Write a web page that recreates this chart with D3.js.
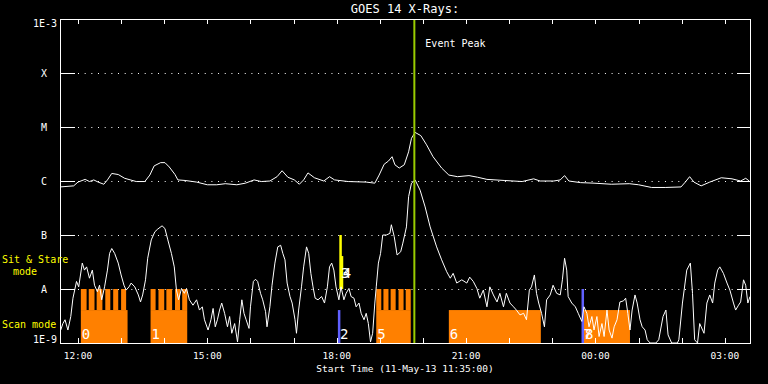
<!DOCTYPE html>
<html lang="en">
<head>
<meta charset="UTF-8">
<title>GOES 14 X-Rays</title>
<script src="https://d3js.org/d3.v7.min.js"></script>
<style>
  body { margin: 0; background: #000; }
  svg { display: block; background: #000; }
  text { font-family: "DejaVu Sans Mono", "Liberation Mono", monospace; fill: #fff; }
</style>
</head>
<body>
<svg id="goes"></svg>
<script>
// [minutes after 11:35 on 11-May-13, log10 flux in W/m^2]
var longChannel = [
  [0,-6.11],[19,-6.09],[25,-6.02],[35,-5.97],[41,-6.01],[47,-5.98],[53,-6.02],[61,-6.06],[66,-5.98],[72,-5.86],
  [81,-5.88],[90,-5.95],[106,-6.01],[118,-6.01],[125,-5.89],[131,-5.72],[140,-5.66],[146,-5.66],[152,-5.74],[160,-5.88],
  [164,-5.98],[174,-5.99],[190,-6.02],[205,-6.07],[218,-6.07],[230,-6.05],[246,-6.07],[258,-6.04],[270,-5.98],[280,-6.01],
  [292,-6.00],[302,-5.92],[309,-5.81],[317,-5.93],[326,-5.98],[333,-6.06],[339,-5.98],[345,-5.85],[354,-5.94],[367,-6.00],
  [375,-5.92],[382,-5.98],[401,-6.01],[426,-6.02],[438,-6.04],[444,-5.89],[451,-5.69],[457,-5.63],[462,-5.55],[466,-5.70],
  [472,-5.76],[479,-5.70],[485,-5.46],[489,-5.21],[494,-5.10],[502,-5.16],[510,-5.33],[519,-5.55],[531,-5.76],[541,-5.89],
  [553,-5.92],[569,-5.90],[581,-5.93],[594,-5.97],[618,-5.99],[643,-6.01],[659,-5.96],[668,-6.00],[687,-6.00],[696,-5.98],
  [702,-5.90],[708,-6.00],[724,-6.03],[743,-6.04],[767,-6.06],[792,-6.05],[805,-6.07],[823,-6.12],[842,-6.12],[864,-6.11],
  [870,-6.02],[876,-5.92],[882,-6.02],[892,-6.09],[904,-6.02],[920,-5.94],[935,-5.96],[947,-6.00],[954,-5.95],[959,-6.00]
];

var shortChannel = [
  [1,-8.76],[4,-8.64],[7,-8.57],[11,-8.76],[15,-8.51],[18,-8.17],[23,-7.86],[26,-7.96],[31,-7.52],[34,-7.65],
  [37,-7.59],[41,-7.80],[45,-7.65],[48,-7.93],[52,-8.05],[55,-7.93],[58,-8.20],[62,-7.96],[66,-7.65],[69,-7.34],
  [72,-7.25],[76,-7.34],[81,-7.52],[85,-7.74],[89,-7.93],[92,-8.02],[96,-7.96],[99,-7.89],[104,-7.96],[109,-8.11],
  [112,-8.24],[115,-8.11],[119,-7.83],[122,-7.43],[127,-7.09],[132,-6.94],[136,-6.89],[142,-6.83],[146,-6.88],[150,-7.09],
  [155,-7.34],[159,-7.59],[162,-8.02],[165,-8.20],[169,-7.99],[173,-8.08],[176,-7.99],[180,-8.20],[185,-8.30],[190,-8.20],
  [194,-8.39],[198,-8.33],[201,-8.57],[206,-8.76],[210,-8.57],[213,-8.36],[216,-8.70],[219,-8.57],[222,-8.39],[225,-8.26],
  [229,-8.45],[233,-8.70],[236,-8.51],[239,-8.82],[243,-8.64],[247,-8.98],[250,-8.57],[253,-8.20],[256,-8.45],[259,-8.57],
  [263,-8.73],[265,-8.33],[269,-7.86],[272,-7.82],[275,-7.86],[279,-8.08],[282,-8.20],[286,-8.42],[288,-8.70],[292,-8.33],
  [295,-7.93],[299,-7.52],[303,-7.22],[307,-7.19],[310,-7.34],[313,-7.46],[316,-7.89],[320,-8.14],[323,-8.26],[327,-8.57],
  [329,-8.82],[332,-8.39],[336,-7.96],[339,-7.59],[343,-7.22],[346,-7.34],[349,-7.71],[352,-7.96],[355,-8.17],[359,-8.20],
  [364,-8.14],[368,-8.26],[372,-7.96],[375,-7.59],[378,-7.52],[381,-7.65],[384,-7.96],[388,-8.20],[391,-7.96],[395,-8.20],
  [398,-8.08],[402,-7.99],[405,-8.14],[409,-8.17],[412,-8.33],[416,-8.26],[419,-8.45],[423,-8.57],[426,-8.45],[429,-8.64],
  [432,-8.98],[435,-8.82],[438,-8.26],[440,-7.96],[443,-7.52],[446,-7.34],[449,-7.00],[454,-7.00],[459,-6.97],[461,-6.81],
  [465,-7.03],[469,-7.37],[474,-7.31],[477,-7.15],[482,-6.85],[485,-6.29],[489,-6.04],[494,-5.98],[501,-6.17],[508,-6.48],
  [515,-6.85],[524,-7.22],[531,-7.46],[538,-7.68],[543,-7.80],[547,-7.71],[552,-7.89],[559,-7.83],[566,-7.89],[570,-7.78],
  [575,-7.86],[580,-7.99],[584,-8.17],[589,-8.02],[594,-8.33],[598,-7.96],[603,-8.11],[608,-8.24],[612,-8.08],[617,-8.33],
  [621,-8.08],[626,-8.26],[631,-8.33],[635,-8.39],[640,-8.48],[645,-8.45],[649,-8.57],[653,-8.02],[656,-7.96],[660,-7.74],
  [663,-8.08],[666,-8.26],[670,-8.45],[674,-8.70],[677,-8.20],[682,-8.11],[686,-7.93],[691,-8.08],[696,-8.11],[699,-7.83],
  [702,-7.43],[705,-7.65],[707,-8.14],[712,-8.26],[717,-8.33],[721,-8.45],[726,-8.60],[729,-8.33],[733,-8.45],[736,-8.70],
  [740,-8.51],[743,-8.76],[747,-8.51],[750,-8.88],[754,-8.64],[757,-8.88],[761,-8.39],[764,-8.76],[768,-8.91],[771,-8.70],
  [775,-8.57],[779,-8.24],[784,-8.22],[787,-8.17],[790,-8.45],[793,-8.76],[796,-8.39],[800,-8.11],[803,-8.26],[807,-8.57],
  [810,-8.70],[814,-8.76],[817,-8.94],[821,-9.00],[829,-9.00],[833,-8.94],[839,-8.51],[843,-8.39],[846,-8.85],[851,-9.00],
  [859,-9.00],[861,-8.94],[866,-8.26],[872,-7.65],[877,-7.52],[880,-8.08],[883,-8.94],[887,-9.00],[890,-8.64],[896,-8.82],
  [900,-8.26],[904,-8.11],[908,-8.26],[911,-7.89],[915,-7.65],[918,-7.59],[923,-7.71],[928,-7.89],[932,-8.02],[937,-8.26],
  [940,-8.39],[944,-8.30],[947,-8.24],[951,-7.83],[954,-7.93],[957,-8.26],[960,-8.14]
];

// scan mode observations (minutes after start)
var scanLabels = ["0", "1", "5", "6", "8"];
var scanStart  = [29, 126, 440, 541, 729];
var scanEnd    = [94, 177, 488, 669, 793];

// short repeated pointings on top of scan blocks
var teethStart = [29, 40, 51, 63, 74, 85, 126, 137, 148, 160, 170, 440, 450, 460, 471, 481];
var teethEnd   = [37, 48, 59, 70, 81, 92, 133, 145, 156, 167, 177, 447, 457, 467, 478, 488];

// single markers: label, minute, top flux exponent, kind
var markLabels = ["2", "3", "4", "7"];
var markTime   = [388, 390, 392, 727];
var markTop    = [-8.39, -7.0, -7.39, -8.0];
var markKind   = ["scan", "stare", "stare", "scan"];

var peakMinute = 493;
var levelLetters = ["X", "M", "C", "B", "A"];
var levelValues  = [1e-4, 1e-5, 1e-6, 1e-7, 1e-8];

var width = 768, height = 384;
var margin = { top: 19, right: 18, bottom: 41, left: 60 };

var start = new Date(2013, 4, 11, 11, 35);
var end = d3.timeMinute.offset(start, 960);

var svg = d3.select("#goes").attr("width", width).attr("height", height);

var x = d3.scaleTime().domain([start, end]).range([margin.left, width - margin.right]);
var y = d3.scaleLog().domain([1e-9, 1e-3]).range([height - margin.bottom, margin.top]);
var t = function(m) { return x(d3.timeMinute.offset(start, m)); };
var f = function(e) { return Math.max(1e-9, Math.pow(10, e)); };

var x0 = margin.left, x1 = width - margin.right;
var y0 = height - margin.bottom, y1 = margin.top;

// dotted level lines
svg.append("g").selectAll("line").data(levelValues).join("line")
   .attr("x1", x0 + 18).attr("x2", x1 - 14)
   .attr("y1", function(d) { return Math.round(y(d)) + 0.5; })
   .attr("y2", function(d) { return Math.round(y(d)) + 0.5; })
   .attr("stroke", "#fff").attr("stroke-width", 1)
   .attr("stroke-dasharray", "1,5.67");

// scan blocks
var scanTop = f(-8.39);
svg.append("g").selectAll("rect").data(scanStart).join("rect")
   .attr("x", function(d) { return t(d); })
   .attr("width", function(d, i) { return t(scanEnd[i]) - t(d); })
   .attr("y", y(scanTop))
   .attr("height", y0 - y(scanTop))
   .attr("fill", "#ff8000");

svg.append("g").selectAll("rect").data(teethStart).join("rect")
   .attr("x", function(d) { return t(d); })
   .attr("width", function(d, i) { return t(teethEnd[i]) - t(d); })
   .attr("y", y(1e-8))
   .attr("height", y(scanTop) - y(1e-8))
   .attr("fill", "#ff8000");

// markers
svg.append("g").selectAll("rect").data(markTime).join("rect")
   .attr("x", function(d) { return t(d) - 1; })
   .attr("width", 2.5)
   .attr("y", function(d, i) { return y(f(markTop[i])); })
   .attr("height", function(d, i) { return (markKind[i] === "scan" ? y0 : y(1e-8)) - y(f(markTop[i])); })
   .attr("fill", function(d, i) { return markKind[i] === "scan" ? "#6060ff" : "#ffff00"; });

// block numbers
svg.append("g").selectAll("text").data(scanStart).join("text")
   .attr("x", function(d) { return t(d) + 1; })
   .attr("y", y0 - 4)
   .attr("font-size", "14px")
   .text(function(d, i) { return scanLabels[i]; });

svg.append("g").selectAll("text").data(markTime).join("text")
   .attr("x", function(d) { return t(d) + 1; })
   .attr("y", function(d, i) { return markKind[i] === "scan" ? y0 - 4 : y(1e-8) - 11; })
   .attr("font-size", "14px")
   .text(function(d, i) { return markLabels[i]; });

// flux curves
var line = d3.line()
   .x(function(d) { return t(d[0]); })
   .y(function(d) { return y(f(d[1])); });

svg.append("path").datum(longChannel)
   .attr("fill", "none").attr("stroke", "#fff").attr("stroke-width", 1)
   .attr("d", line);

svg.append("path").datum(shortChannel)
   .attr("fill", "none").attr("stroke", "#fff").attr("stroke-width", 1)
   .attr("d", line);

// event peak
svg.append("line")
   .attr("x1", t(peakMinute)).attr("x2", t(peakMinute))
   .attr("y1", y1).attr("y2", y0)
   .attr("stroke", "#99cc00").attr("stroke-width", 2);

svg.append("text")
   .attr("x", t(peakMinute) + 11).attr("y", 47)
   .attr("font-size", "10px")
   .text("Event Peak");

// frame
svg.append("rect")
   .attr("x", x0 + 0.5).attr("y", y1 + 0.5)
   .attr("width", x1 - x0).attr("height", y0 - y1)
   .attr("fill", "none").attr("stroke", "#fff").attr("stroke-width", 1);

// level ticks on both sides
svg.append("g").selectAll("line").data(levelValues).join("line")
   .attr("x1", x0).attr("x2", x0 + 15)
   .attr("y1", function(d) { return Math.round(y(d)) + 0.5; })
   .attr("y2", function(d) { return Math.round(y(d)) + 0.5; })
   .attr("stroke", "#fff");

svg.append("g").selectAll("line").data(levelValues).join("line")
   .attr("x1", x1 - 13).attr("x2", x1)
   .attr("y1", function(d) { return Math.round(y(d)) + 0.5; })
   .attr("y2", function(d) { return Math.round(y(d)) + 0.5; })
   .attr("stroke", "#fff");

// hourly ticks top and bottom
var hours = x.ticks(d3.timeHour.every(1));
svg.append("g").selectAll("line").data(hours).join("line")
   .attr("x1", function(d) { return Math.round(x(d)) + 0.5; })
   .attr("x2", function(d) { return Math.round(x(d)) + 0.5; })
   .attr("y1", y1).attr("y2", y1 + 5)
   .attr("stroke", "#fff");

svg.append("g").selectAll("line").data(hours).join("line")
   .attr("x1", function(d) { return Math.round(x(d)) + 0.5; })
   .attr("x2", function(d) { return Math.round(x(d)) + 0.5; })
   .attr("y1", y0 - 5).attr("y2", y0)
   .attr("stroke", "#fff");

var fmt = d3.timeFormat("%H:%M");
svg.append("g").selectAll("text").data(x.ticks(d3.timeHour.every(3))).join("text")
   .attr("x", function(d) { return x(d); })
   .attr("y", y0 + 16)
   .attr("text-anchor", "middle")
   .attr("font-size", "9.5px")
   .text(function(d) { return fmt(d); });

// y labels
svg.append("g").selectAll("text").data(levelValues).join("text")
   .attr("x", 44)
   .attr("y", function(d) { return y(d) + 4; })
   .attr("text-anchor", "middle")
   .attr("font-size", "10px")
   .text(function(d, i) { return levelLetters[i]; });

svg.append("text").attr("x", 57).attr("y", y1 + 8)
   .attr("text-anchor", "end").attr("font-size", "10px").text("1E-3");
svg.append("text").attr("x", 57).attr("y", y0)
   .attr("text-anchor", "end").attr("font-size", "10px").text("1E-9");

// mode labels
svg.append("text").attr("x", 2).attr("y", 263).attr("font-size", "10px")
   .style("fill", "#ffff00").text("Sit & Stare");
svg.append("text").attr("x", 13).attr("y", 275).attr("font-size", "10px")
   .style("fill", "#ffff00").text("mode");
svg.append("text").attr("x", 2).attr("y", 328).attr("font-size", "10px")
   .style("fill", "#ffff00").text("Scan mode");

// titles
svg.append("text")
   .attr("x", (x0 + x1) / 2).attr("y", 13)
   .attr("text-anchor", "middle").attr("font-size", "12px")
   .text("GOES 14 X-Rays:");

svg.append("text")
   .attr("x", (x0 + x1) / 2).attr("y", 372)
   .attr("text-anchor", "middle").attr("font-size", "9.5px")
   .text("Start Time (11-May-13 11:35:00)");
</script>
</body>
</html>
